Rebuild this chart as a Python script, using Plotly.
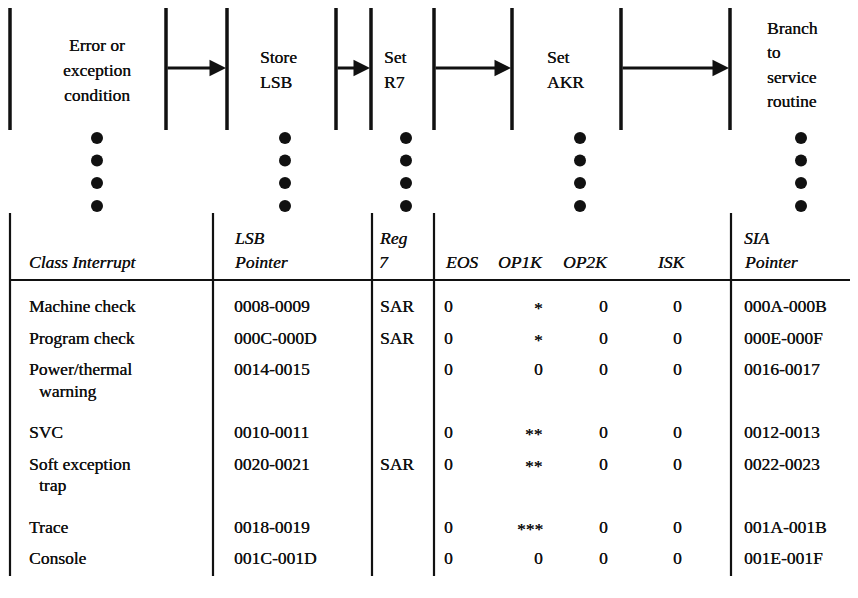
import plotly.graph_objects as go

# ---------------- data ----------------
steps = ["Error or\nexception\ncondition", "Store\nLSB", "Set\nR7", "Set\nAKR",
         "Branch\nto\nservice\nroutine"]
headers = ["Class Interrupt", "LSB\nPointer", "Reg\n7", "EOS", "OP1K", "OP2K", "ISK", "SIA\nPointer"]
classes = ["Machine check", "Program check", "Power/thermal\n  warning", "SVC",
           "Soft exception\n  trap", "Trace", "Console"]
lsb_ptr = ["0008-0009", "000C-000D", "0014-0015", "0010-0011", "0020-0021", "0018-0019", "001C-001D"]
reg7 = ["SAR", "SAR", "", "", "SAR", "", ""]
eos = ["0", "0", "0", "0", "0", "0", "0"]
op1k = ["*", "*", "0", "**", "**", "***", "0"]
op2k = ["0", "0", "0", "0", "0", "0", "0"]
isk = ["0", "0", "0", "0", "0", "0", "0"]
sia_ptr = ["000A-000B", "000E-000F", "0016-0017", "0012-0013", "0022-0023", "001A-001B", "001E-001F"]

# ---------------- layout geometry (data units == page pixels) ----------------
W, H = 858, 598
OFF = 8  # default page margin of the html body
FONT = "Liberation Serif"
FS = 17.5
BLACK = "#111111"
SHADOW = "0.25px 0px 0px #111111"

fig = go.Figure()
shapes = []
ann = []

def vline(x, y0, y1, w):
    shapes.append(dict(type="line", x0=x, x1=x, y0=y0, y1=y1, xref="x", yref="y",
                       line=dict(color=BLACK, width=w)))

def hline(y, x0, x1, w):
    shapes.append(dict(type="line", x0=x0, x1=x1, y0=y, y1=y, xref="x", yref="y",
                       line=dict(color=BLACK, width=w)))

def text(x, y, s, xanchor="left", italic=False, size=FS):
    ann.append(dict(x=x, y=y, xref="x", yref="y", text=(f"<i>{s}</i>" if italic else s),
                    showarrow=False, xanchor=xanchor, yanchor="middle",
                    font=dict(family=FONT, size=size, color=BLACK, shadow=SHADOW)))

# --- flow diagram on top ---
top_y0, top_y1 = 8, 130
vline(10, top_y0, top_y1, 3.5)
gates = [(166, 227), (336, 371), (434, 512), (621, 730)]
arrow_y = 68
for (a, b) in gates:
    vline(a, top_y0, top_y1, 3.5)
    vline(b, top_y0 if b != 730 else 2, top_y1, 3.5)
    ann.append(dict(x=b - 1, y=arrow_y, ax=a, ay=arrow_y, xref="x", yref="y", axref="x", ayref="y",
                    text="", showarrow=True, arrowhead=2, arrowsize=1.1, arrowwidth=3,
                    arrowcolor=BLACK, standoff=0, startstandoff=0))

step_pos = [(97, "center", 45), (258, "left", 57), (382, "left", 57), (545, "left", 57), (765, "left", 28)]
step_gap = [25, 25, 25, 25, 24.4]
for s, (x, xa, y0), g in zip(steps, step_pos, step_gap):
    for i, line in enumerate(s.split("\n")):
        text(x, y0 + i * g, line, xanchor=xa)

dot_x = [97, 285, 406, 580, 801]
dot_y = [138, 160.5, 183, 206]
fig.add_trace(go.Scatter(
    x=[x for x in dot_x for _ in dot_y], y=[y for _ in dot_x for y in dot_y],
    mode="markers", marker=dict(size=12, color=BLACK), hoverinfo="skip", showlegend=False))

# --- table ---
tab_top, tab_bot = 213, 576
for x in [10, 213, 372, 434, 731]:
    vline(x, tab_top, tab_bot, 2.2)
hline(280, 10, W, 2)

hdr_pos = [(27, "left"), (232, "left"), (377, "left"), (461, "center"),
           (520, "center"), (585, "center"), (671, "center"), (742, "left")]
for h, (x, xa) in zip(headers, hdr_pos):
    parts = h.split("\n")
    for i, line in enumerate(parts):
        y = 262 - (len(parts) - 1 - i) * 24
        text(x, y, line, xanchor=xa, italic=True)

row_pitch, wrap_pitch = 31.5, 21.5
y = 306
for i in range(len(classes)):
    lines = classes[i].split("\n")
    for k, line in enumerate(lines):
        text(27 if k == 0 else 37, y + k * wrap_pitch, line.strip())
    text(232, y, lsb_ptr[i])
    if reg7[i]:
        text(378, y, reg7[i])
    text(448, y, eos[i], xanchor="center")
    text(545, y + (2 if "*" in op1k[i] else 0), op1k[i], xanchor="right")
    text(603, y, op2k[i], xanchor="center")
    text(677, y, isk[i], xanchor="center")
    text(742, y, sia_ptr[i])
    y += row_pitch * len(lines)

fig.update_layout(
    width=W - OFF, height=H - OFF, margin=dict(l=0, r=0, t=0, b=0),
    paper_bgcolor="white", plot_bgcolor="white",
    xaxis=dict(range=[OFF, W], visible=False, fixedrange=True),
    yaxis=dict(range=[H, OFF], visible=False, fixedrange=True),
    shapes=shapes, annotations=ann, showlegend=False,
)
fig.write_html("out.html")
